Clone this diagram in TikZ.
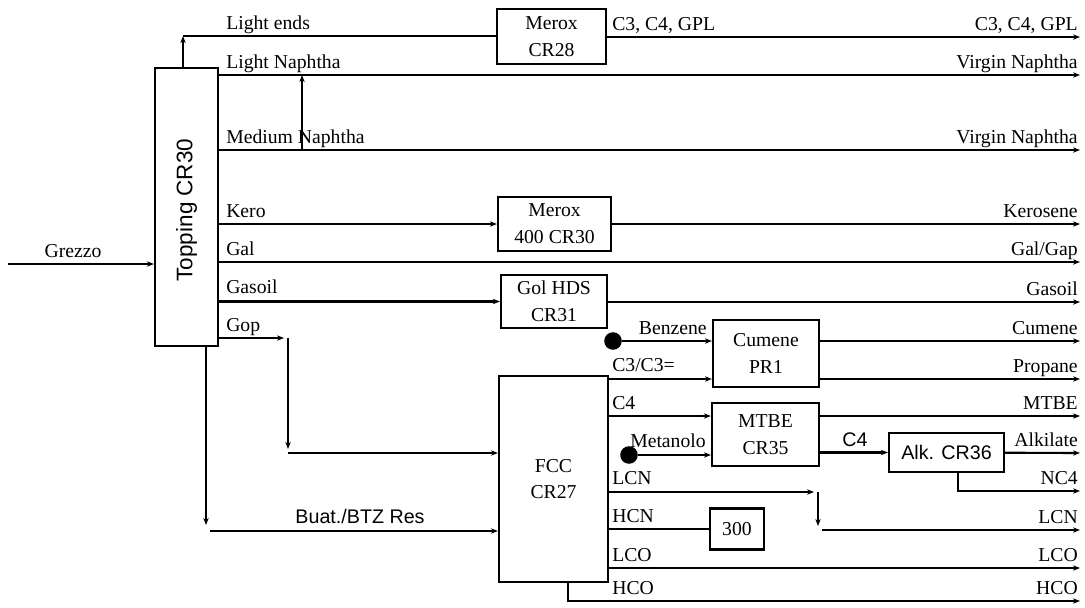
\documentclass[tikz,border=0pt]{standalone}
\usepackage{fontspec}
\setmainfont{Liberation Serif}
\setsansfont{Liberation Sans}
\usetikzlibrary{arrows.meta}
\tikzset{
  unit/.style={draw=black,line width=1.5pt,fill=white,inner sep=2pt,align=center,
    font=\fontsize{14}{19}\selectfont},
  flow/.style={draw=black,line width=1.5pt,-{Stealth[length=5pt,width=3.8pt]}},
  pipe/.style={draw=black,line width=1.5pt},
}
\tikzset{dot/.style={circle,fill=black,inner sep=0pt,minimum size=12.5pt}, lab/.style={inner sep=0pt,font=\fontsize{14}{16}\selectfont},slab/.style={inner sep=0pt,font=\sffamily\fontsize{14}{16}\selectfont}}

\begin{document}
\begin{tikzpicture}[x=0.025cm,y=-0.025cm]
\useasboundingbox (0,0) rectangle (1085,607);
\node[unit,minimum width=1.575cm,minimum height=6.95cm] (top) at (186.5,207) {};
\node[inner sep=0pt,font=\sffamily\fontsize{16}{18}\selectfont] (topT) at (186.5,210) {\rotatebox{90}{Topping CR30}};
\node[unit,minimum width=2.725cm,minimum height=1.375cm] (mx28) at (551.5,36.5) {Merox\\CR28};
\node[unit,minimum width=2.825cm,minimum height=1.35cm] (mx30) at (554.5,224) {Merox\\400 CR30};
\node[unit,minimum width=2.65cm,minimum height=1.325cm] (gol) at (554,301.5) {Gol HDS\\CR31};
\node[unit,minimum width=2.65cm,minimum height=1.675cm] (cum) at (766,353.5) {Cumene\\PR1};
\node[unit,minimum width=2.675cm,minimum height=1.575cm] (mtbe) at (765.5,434.5) {MTBE\\CR35};
\node[unit,minimum width=2.875cm,minimum height=0.975cm,font=\sffamily\fontsize{14}{16}\selectfont] (alk) at (946.5,452.5) {Alk. CR36};
\node[unit,minimum width=2.725cm,minimum height=5.15cm] (fcc) at (553.5,479) {FCC\\CR27};
\node[unit,minimum width=1.35cm,minimum height=1.025cm] (u300) at (737,529) {300};
\node[dot] (dBen) at (613,341) {};
\node[dot] (dMe) at (629,455) {};
\coordinate (in) at (8,264);
\coordinate (le) at (183,36);
\coordinate (oC3) at (1080,37);
\coordinate (oLN) at (1080,75);
\coordinate (mn) at (302,150);
\coordinate (oMN) at (1080,150);
\coordinate (oKe) at (1080,224);
\coordinate (oGa) at (1080,262);
\coordinate (oGs) at (1080,302);
\coordinate (gpA) at (284,338);
\coordinate (gpB) at (288,338);
\coordinate (gpC) at (288,449);
\coordinate (gpD) at (288,453);
\coordinate (btA) at (206,525);
\coordinate (btB) at (210,531);
\coordinate (oCu) at (1080,341);
\coordinate (oPr) at (1080,379);
\coordinate (oMt) at (1080,416);
\coordinate (oAl) at (1080,453);
\coordinate (nc) at (958,491);
\coordinate (oNC) at (1080,491);
\coordinate (lcA) at (814,492);
\coordinate (lcB) at (818,492);
\coordinate (lcC) at (818,526);
\coordinate (lcD) at (822,530);
\coordinate (oLc) at (1080,530);
\coordinate (oLo) at (1080,568);
\coordinate (hc) at (568,601);
\coordinate (oHc) at (1080,601);
\draw[flow] (in) -- (in -| top.west);
\draw[flow] (top.north -| le) -- (le);
\draw[pipe] (le) -- (mx28.west |- le);
\draw[flow] (mx28.east |- oC3) -- (oC3);
\draw[flow] (top.east |- oLN) -- (oLN);
\draw[flow] (top.east |- oMN) -- (oMN);
\draw[flow] (mn) -- (mn |- oLN);
\draw[flow] (top.east |- mx30) -- (mx30);
\draw[flow] (mx30) -- (oKe);
\draw[flow] (top.east |- oGa) -- (oGa);
\draw[flow] (top.east |- gol) -- (gol);
\draw[flow] (gol.east |- oGs) -- (oGs);
\draw[flow] (top.east |- gpA) -- (gpA);
\draw[flow] (gpB) -- (gpC);
\draw[flow] (gpD) -- (gpD -| fcc.west);
\draw[flow] (top.south -| btA) -- (btA);
\draw[flow] (btB) -- (btB -| fcc.west);
\draw[flow] (dBen) -- (dBen -| cum.west);
\draw[flow] (fcc.east |- oPr) -- (cum.west |- oPr);
\draw[flow] (cum.east |- oCu) -- (oCu);
\draw[flow] (cum.east |- oPr) -- (oPr);
\draw[flow] (fcc.east |- oMt) -- (mtbe.west |- oMt);
\draw[flow] (dMe) -- (dMe -| mtbe.west);
\draw[flow] (mtbe.east |- oMt) -- (oMt);
\draw[flow] (mtbe.east |- alk) -- (alk);
\draw[flow] (alk) -- (oAl);
\draw[flow] (alk.south -| nc) -- (nc) -- (oNC);
\draw[flow] (fcc.east |- lcA) -- (lcA);
\draw[flow] (lcB) -- (lcC);
\draw[flow] (lcD) -- (oLc);
\draw[pipe] (fcc.east |- u300) -- (u300);
\draw[flow] (fcc.east |- oLo) -- (oLo);
\draw[flow] (fcc.south -| hc) -- (hc) -- (oHc);
\node[lab,anchor=base] (tGr) at (73,257) {Grezzo};
\node[lab,anchor=base west] (tLE) at (226,29) {Light ends};
\node[lab,anchor=base west] (tLN) at (226,68) {Light Naphtha};
\node[lab,anchor=base west] (tMN) at (226,143) {Medium Naphtha};
\node[lab,anchor=base west] (tKe) at (226,217) {Kero};
\node[lab,anchor=base west] (tGa) at (226,255) {Gal};
\node[lab,anchor=base west] (tGs) at (226,293) {Gasoil};
\node[lab,anchor=base west] (tGp) at (226,331) {Gop};
\node[slab,anchor=base] (tBu) at (360,523) {Buat./BTZ Res};
\node[lab,anchor=base west] (tC3a) at (612,30) {C3, C4, GPL};
\node[lab,anchor=base east] (tC3b) at (1078,30) {C3, C4, GPL};
\node[lab,anchor=base east] (tVN1) at (1078,68) {Virgin Naphtha};
\node[lab,anchor=base east] (tVN2) at (1078,143) {Virgin Naphtha};
\node[lab,anchor=base east] (tKr) at (1078,217) {Kerosene};
\node[lab,anchor=base east] (tGG) at (1078,255) {Gal/Gap};
\node[lab,anchor=base east] (tGo) at (1078,295) {Gasoil};
\node[lab,anchor=base east] (tBz) at (707,334) {Benzene};
\node[lab,anchor=base west] (tC33) at (612,371) {C3/C3=};
\node[lab,anchor=base east] (tCu) at (1078,334) {Cumene};
\node[lab,anchor=base east] (tPr) at (1078,372) {Propane};
\node[lab,anchor=base west] (tC4a) at (612,409) {C4};
\node[lab,anchor=base east] (tMt) at (1078,409) {MTBE};
\node[lab,anchor=base east] (tMe) at (706,447) {Metanolo};
\node[slab,anchor=base] (tC4b) at (855,446) {C4};
\node[lab,anchor=base east] (tAl) at (1078,446) {Alkilate};
\node[lab,anchor=base east] (tNC) at (1078,484) {NC4};
\node[lab,anchor=base west] (tLCa) at (612,484) {LCN};
\node[lab,anchor=base east] (tLCb) at (1078,523) {LCN};
\node[lab,anchor=base west] (tHN) at (612,522) {HCN};
\node[lab,anchor=base west] (tLOa) at (612,561) {LCO};
\node[lab,anchor=base east] (tLOb) at (1078,561) {LCO};
\node[lab,anchor=base west] (tHOa) at (612,594) {HCO};
\node[lab,anchor=base east] (tHOb) at (1078,594) {HCO};
\end{tikzpicture}
\end{document}
